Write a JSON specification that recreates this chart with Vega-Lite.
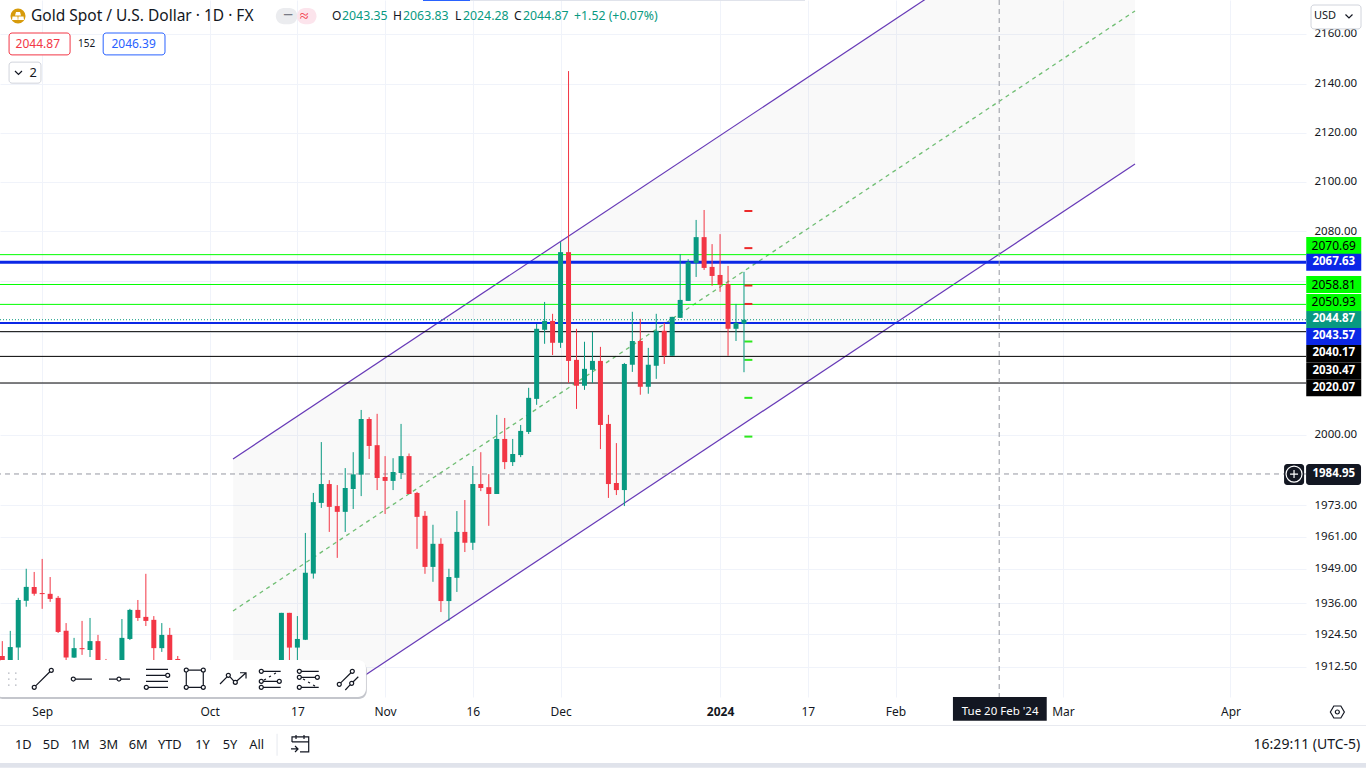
{"$schema":"https://vega.github.io/schema/vega-lite/v6.json","width":1306,"height":697,"autosize":"none","padding":{"left":0,"top":0,"right":60,"bottom":71},"background":"#ffffff","config":{"view":{"stroke":null},"font":"Noto Sans","text":{"font":"Noto Sans"},"axis":{"labelFont":"Noto Sans"}},
"datasets":{"candles":[
{"i":0,"o":1916.5,"h":1922.0,"l":1909.1,"c":1911.3},{"i":1,"o":1912.1,"h":1925.8,"l":1910.6,"c":1919.8},{"i":2,"o":1919.6,"h":1938.1,"l":1914.3,"c":1937.3},{"i":3,"o":1937.0,"h":1949.0,"l":1934.8,"c":1942.2},{"i":4,"o":1942.2,"h":1947.8,"l":1938.9,"c":1939.6},{"i":5,"o":1939.9,"h":1952.7,"l":1934.0,"c":1939.5},{"i":6,"o":1939.6,"h":1945.9,"l":1936.6,"c":1937.7},{"i":7,"o":1938.1,"h":1938.8,"l":1925.0,"c":1925.4},{"i":8,"o":1925.8,"h":1928.7,"l":1915.0,"c":1915.9},{"i":9,"o":1915.9,"h":1923.2,"l":1915.8,"c":1919.4},{"i":10,"o":1919.4,"h":1929.5,"l":1916.9,"c":1919.0},{"i":11,"o":1918.7,"h":1930.6,"l":1916.1,"c":1922.0},{"i":12,"o":1922.0,"h":1924.3,"l":1910.6,"c":1913.2},{"i":13,"o":1914.3,"h":1915.4,"l":1909.5,"c":1912.1},{"i":15,"o":1913.2,"h":1930.2,"l":1911.3,"c":1923.2},{"i":16,"o":1922.8,"h":1934.0,"l":1922.4,"c":1933.6},{"i":17,"o":1933.6,"h":1937.3,"l":1929.5,"c":1930.6},{"i":18,"o":1931.0,"h":1947.1,"l":1927.6,"c":1929.5},{"i":19,"o":1929.9,"h":1931.3,"l":1914.3,"c":1919.4},{"i":20,"o":1919.4,"h":1928.7,"l":1918.0,"c":1924.3},{"i":21,"o":1924.3,"h":1926.9,"l":1912.1,"c":1913.2},{"i":22,"o":1915.4,"h":1916.5,"l":1913.2,"c":1914.7},
{"i":35,"o":1910.6,"h":1932.5,"l":1907.7,"c":1932.5},{"i":36,"o":1932.5,"h":1932.5,"l":1915.0,"c":1919.6},{"i":37,"o":1919.6,"h":1931.3,"l":1915.0,"c":1922.8},{"i":38,"o":1922.5,"h":1962.5,"l":1922.4,"c":1947.5},{"i":39,"o":1947.2,"h":1977.7,"l":1945.3,"c":1974.2},{"i":40,"o":1973.9,"h":1997.2,"l":1972.0,"c":1981.1},{"i":41,"o":1981.1,"h":1982.6,"l":1962.9,"c":1972.4},{"i":42,"o":1972.7,"h":1980.7,"l":1953.1,"c":1970.5},{"i":43,"o":1970.5,"h":1987.2,"l":1962.9,"c":1979.6},{"i":44,"o":1979.2,"h":1993.3,"l":1971.6,"c":1984.8},{"i":45,"o":1984.7,"h":2009.6,"l":1976.5,"c":2006.1},{"i":46,"o":2006.1,"h":2006.8,"l":1990.7,"c":1995.7},{"i":47,"o":1996.0,"h":2008.1,"l":1978.8,"c":1983.4},{"i":48,"o":1983.8,"h":1991.8,"l":1969.7,"c":1982.3},{"i":49,"o":1982.3,"h":1991.0,"l":1978.8,"c":1985.7},{"i":50,"o":1985.3,"h":2004.2,"l":1983.0,"c":1991.8},{"i":51,"o":1991.8,"h":1992.8,"l":1977.3,"c":1977.3},{"i":52,"o":1977.7,"h":1978.1,"l":1956.5,"c":1968.6},{"i":53,"o":1969.0,"h":1970.8,"l":1947.1,"c":1949.7},{"i":54,"o":1949.7,"h":1965.6,"l":1944.1,"c":1958.4},{"i":55,"o":1958.4,"h":1960.5,"l":1932.8,"c":1936.9},{"i":56,"o":1936.9,"h":1949.0,"l":1929.5,"c":1945.9},{"i":57,"o":1945.6,"h":1970.8,"l":1940.3,"c":1962.9},{"i":58,"o":1962.9,"h":1975.0,"l":1955.3,"c":1958.8},{"i":59,"o":1958.8,"h":1988.0,"l":1956.1,"c":1981.1},{"i":60,"o":1981.1,"h":1993.3,"l":1978.4,"c":1979.6},{"i":61,"o":1979.9,"h":1984.9,"l":1965.2,"c":1977.3},{"i":62,"o":1977.3,"h":2007.7,"l":1977.3,"c":1998.4},{"i":63,"o":1998.4,"h":2006.5,"l":1986.8,"c":1989.5},{"i":64,"o":1989.5,"h":1998.4,"l":1988.0,"c":1992.6},{"i":65,"o":1992.2,"h":2003.8,"l":1991.4,"c":2001.5},{"i":66,"o":2001.1,"h":2018.2,"l":2000.3,"c":2014.3},{"i":67,"o":2013.9,"h":2043.2,"l":2011.6,"c":2041.3},{"i":68,"o":2040.9,"h":2051.9,"l":2035.4,"c":2044.4},{"i":69,"o":2044.4,"h":2047.2,"l":2031.0,"c":2035.8},{"i":70,"o":2035.8,"h":2075.7,"l":2033.8,"c":2071.7},{"i":71,"o":2071.7,"h":2145.3,"l":2020.1,"c":2028.7},{"i":72,"o":2029.1,"h":2041.3,"l":2010.0,"c":2019.0},{"i":73,"o":2019.0,"h":2036.2,"l":2017.4,"c":2025.6},{"i":74,"o":2025.2,"h":2040.1,"l":2020.1,"c":2028.7},{"i":75,"o":2028.7,"h":2034.2,"l":1994.5,"c":2003.8},{"i":76,"o":2004.2,"h":2007.7,"l":1975.8,"c":1981.1},{"i":77,"o":1981.5,"h":1996.8,"l":1976.9,"c":1978.8},{"i":78,"o":1978.8,"h":2027.9,"l":1972.7,"c":2027.5},{"i":79,"o":2027.2,"h":2048.0,"l":2024.4,"c":2036.5},{"i":80,"o":2036.5,"h":2045.2,"l":2015.5,"c":2018.6},{"i":81,"o":2018.6,"h":2033.8,"l":2015.9,"c":2027.2},{"i":82,"o":2026.8,"h":2047.2,"l":2021.7,"c":2040.5},{"i":83,"o":2040.5,"h":2043.6,"l":2027.5,"c":2030.7},{"i":84,"o":2030.7,"h":2046.0,"l":2030.7,"c":2046.0},{"i":85,"o":2045.6,"h":2070.9,"l":2045.6,"c":2052.7},{"i":86,"o":2052.3,"h":2068.9,"l":2052.3,"c":2067.7},{"i":87,"o":2067.4,"h":2084.6,"l":2061.8,"c":2077.7},{"i":88,"o":2077.7,"h":2088.6,"l":2064.6,"c":2065.4},{"i":89,"o":2065.8,"h":2074.9,"l":2058.3,"c":2062.2},{"i":90,"o":2062.6,"h":2078.9,"l":2055.9,"c":2058.7},{"i":91,"o":2059.0,"h":2066.2,"l":2030.7,"c":2041.3},{"i":92,"o":2041.3,"h":2051.1,"l":2036.5,"c":2043.6},{"i":93,"o":2043.35,"h":2063.83,"l":2024.28,"c":2044.87}],
"channel":[{"i":28.93,"up":1990.7,"mid":1933.2,"lo":1877.4},{"i":142.03,"up":2234.4,"mid":2170.3,"lo":2107.2}],
"levels":[{"p":2070.69,"kind":"green"},{"p":2058.81,"kind":"green"},{"p":2050.93,"kind":"green"},{"p":2067.63,"kind":"bluethick"},{"p":2043.57,"kind":"blue"},{"p":2040.17,"kind":"black"},{"p":2030.47,"kind":"black"},{"p":2020.07,"kind":"black"}],
"pivots":[{"p":2088.2,"kind":"r"},{"p":2073.3,"kind":"r"},{"p":2058.4,"kind":"r"},{"p":2051.1,"kind":"r"},{"p":2036.3,"kind":"s"},{"p":2029.1,"kind":"s"},{"p":2014.3,"kind":"s"},{"p":1999.3,"kind":"s"}],
"badges":[{"at":2074.3,"label":"2070.69","kind":"green"},{"at":2067.7,"label":"2067.63","kind":"blue"},{"at":2058.8,"label":"2058.81","kind":"green"},{"at":2051.7,"label":"2050.93","kind":"green"},{"at":2045.0,"label":"2044.87","kind":"teal"},{"at":2038.3,"label":"2043.57","kind":"blue"},{"at":2031.6,"label":"2040.17","kind":"black"},{"at":2024.9,"label":"2030.47","kind":"black"},{"at":2018.2,"label":"2020.07","kind":"black"},{"at":1984.9,"label":"1984.95","kind":"cross"}],
"flat":[{"x":-0.29,"x2":171,"y":1877.4,"y2":1875.6,"kind":"strip"},{"x":-0.29,"x2":171,"y":1891.2,"y2":1890.9,"kind":"line"},{"x":34.4,"x2":34.5,"y":1888.0,"y2":1880.0,"kind":"line"},{"x":52.75,"x2":58.65,"y":2174.9,"y2":2174.5,"kind":"tab"},{"x":58.65,"x2":100.65,"y":2174.9,"y2":2174.5,"kind":"line"},{"x":119.2,"x2":130.96,"y":1901.4,"y2":1892.7,"kind":"tip"}],
"rounded":[{"x":-1,"x2":45.7,"y":1914.3,"y2":1900.7,"kind":"shadow"},{"x":-1,"x2":45.6,"y":1915.0,"y2":1901.4,"kind":"panel"},{"x":34.3,"x2":37,"y":2171.5,"y2":2164.8,"kind":"pillgrey"},{"x":36.95,"x2":39.4,"y":2171.5,"y2":2164.8,"kind":"pillpink"}],
"crossbox":[{"x":160.72,"x2":163.23,"y":1988.8,"y2":1980.7},{"x":163.48,"x2":170.37,"y":1988.8,"y2":1980.7}],
"boxes":[{"x":0.85,"x2":8.5,"y":2161.1,"y2":2152.0,"kind":"red"},{"x":12.65,"x2":20.4,"y":2161.1,"y2":2152.0,"kind":"blue"},{"x":0.85,"x2":4.85,"y":2149.0,"y2":2140.3,"kind":"grey"},{"x":164.1,"x2":170.37,"y":2172.8,"y2":2162.8,"kind":"grey"}],
"icons":[{"i":1.22,"p":1908.0,"icon":"grip"},{"i":5.1,"p":1908.0,"icon":"line"},{"i":9.87,"p":1908.0,"icon":"ray"},{"i":14.63,"p":1908.0,"icon":"ext"},{"i":19.4,"p":1908.0,"icon":"par"},{"i":24.16,"p":1908.0,"icon":"rect"},{"i":28.93,"p":1908.0,"icon":"path"},{"i":33.69,"p":1908.0,"icon":"fib1"},{"i":38.46,"p":1908.0,"icon":"fib2"},{"i":43.22,"p":1908.0,"icon":"trend"},{"i":37.33,"p":1883.9,"icon":"cal"},{"i":167.4,"p":1895.9,"icon":"gear"},{"i":2.03,"p":2144.7,"icon":"chev"},{"i":168.86,"p":2168.2,"icon":"chev"},{"i":161.97,"p":1984.9,"icon":"plus"}],
"texts":[{"i":3.6,"p":2168.2,"label":"Gold Spot / U.S. Dollar · 1D · FX","kind":"title"},{"i":41.34,"p":2168.2,"label":"O","kind":"ohlc"},{"i":42.6,"p":2168.2,"label":"2043.35","kind":"teal"},{"i":49.0,"p":2168.2,"label":"H","kind":"ohlc"},{"i":50.25,"p":2168.2,"label":"2063.83","kind":"teal"},{"i":56.77,"p":2168.2,"label":"L","kind":"ohlc"},{"i":57.77,"p":2168.2,"label":"2024.28","kind":"teal"},{"i":64.16,"p":2168.2,"label":"C","kind":"ohlc"},{"i":65.29,"p":2168.2,"label":"2044.87","kind":"teal"},{"i":71.69,"p":2168.2,"label":"+1.52 (+0.07%)","kind":"teal"},{"i":35.2,"p":2168.2,"label":"−","kind":"greyb"},{"i":37.3,"p":2168.2,"label":"≈","kind":"pink"},{"i":1.67,"p":2156.5,"label":"2044.87","kind":"red"},{"i":9.49,"p":2156.5,"label":"152","kind":"small"},{"i":13.68,"p":2156.5,"label":"2046.39","kind":"blue"},{"i":3.41,"p":2144.7,"label":"2","kind":"dark"},{"i":164.47,"p":2168.2,"label":"USD","kind":"usd"},{"i":120.3,"p":1896.0,"label":"Tue 20 Feb '24","kind":"white"},{"i":1.59,"p":1883.9,"label":"1D","kind":"dark"},{"i":5.07,"p":1883.9,"label":"5D","kind":"dark"},{"i":8.58,"p":1883.9,"label":"1M","kind":"dark"},{"i":12.16,"p":1883.9,"label":"3M","kind":"dark"},{"i":15.85,"p":1883.9,"label":"6M","kind":"dark"},{"i":19.52,"p":1883.9,"label":"YTD","kind":"dark"},{"i":24.2,"p":1883.9,"label":"1Y","kind":"dark"},{"i":27.64,"p":1883.9,"label":"5Y","kind":"dark"},{"i":30.97,"p":1883.9,"label":"All","kind":"dark"},{"i":156.9,"p":1883.9,"label":"16:29:11 (UTC-5)","kind":"time"}]},
"resolve":{"scale":{"color":"independent","size":"independent","shape":"independent"}},
"layer":[
{"data":{"name":"channel"},"mark":{"type":"area","clip":true,"color":"#000000","opacity":0.025},"encoding":{"x":{"field":"i","type":"quantitative","scale":{"domain":[-0.288,163.47],"nice":false,"zero":false},"axis":{"title":null,"orient":"bottom","domain":false,"ticks":false,"grid":true,"gridColor":"#f0f3fa","values":[5,26,37,48,59,70,90,101,112,133,154],"labelExpr":"{'5':'Sep','26':'Oct','37':'17','48':'Nov','59':'16','70':'Dec','90':'2024','101':'17','112':'Feb','133':'Mar','154':'Apr'}[datum.value]","labelColor":"#131722","labelFontSize":12,"labelPadding":9,"labelOverlap":false,"labelFlush":false,"labelBound":false,"labelFontWeight":{"condition":{"test":"datum.value==90","value":"bold"},"value":"normal"}}},"y":{"field":"up","type":"quantitative","scale":{"type":"log","domain":[1901.4,2174.9],"nice":false,"zero":false},"axis":{"title":null,"orient":"right","domain":false,"ticks":false,"grid":true,"gridColor":"#f0f3fa","values":[1912.5,1924.5,1936,1949,1961,1973,2000,2020,2040,2060,2080,2100,2120,2140,2160.7],"labelExpr":"datum.value>2160?'2160.00':(datum.value==2020||datum.value==2040||datum.value==2060)?'':format(datum.value,'.2f')","labelColor":"#131722","labelFontSize":11.5,"labelPadding":8,"labelOverlap":false,"labelFlush":false,"labelBound":false}},"y2":{"field":"lo"}}},
{"data":{"name":"channel"},"mark":{"type":"line","clip":true,"color":"#4caf50","strokeWidth":1.3,"strokeDash":[4,4],"opacity":0.8},"encoding":{"x":{"field":"i","type":"quantitative"},"y":{"field":"mid","type":"quantitative"}}},
{"data":{"name":"channel"},"mark":{"type":"line","clip":true,"color":"#673ab7","strokeWidth":1.2},"encoding":{"x":{"field":"i","type":"quantitative"},"y":{"field":"up","type":"quantitative"}}},
{"data":{"name":"channel"},"mark":{"type":"line","clip":true,"color":"#673ab7","strokeWidth":1.2},"encoding":{"x":{"field":"i","type":"quantitative"},"y":{"field":"lo","type":"quantitative"}}},
{"data":{"name":"levels"},"mark":{"type":"rule"},"encoding":{"y":{"field":"p","type":"quantitative"},"color":{"field":"kind","type":"nominal","legend":null,"scale":{"domain":["green","bluethick","blue","black"],"range":["#00ff00","#0b27e6","#0b27e6","#000000"]}},"size":{"field":"kind","type":"ordinal","legend":null,"scale":{"type":"ordinal","domain":["green","bluethick","blue","black"],"range":[1,3,2,1]}}}},
{"data":{"values":[{"p":2044.87}]},"mark":{"type":"rule","color":"#089981","strokeWidth":1,"strokeDash":[1,2]},"encoding":{"y":{"field":"p","type":"quantitative"}}},
{"data":{"values":[{"p":1984.95}]},"mark":{"type":"rule","color":"#9598a1","strokeWidth":1,"strokeDash":[5,4]},"encoding":{"y":{"field":"p","type":"quantitative"}}},
{"data":{"values":[{"i":125}]},"mark":{"type":"rule","color":"#9598a1","strokeWidth":1,"strokeDash":[5,4]},"encoding":{"x":{"field":"i","type":"quantitative"}}},
{"data":{"name":"pivots"},"mark":{"type":"rule","strokeWidth":2},"encoding":{"x":{"datum":93.05,"type":"quantitative"},"x2":{"datum":94.05},"y":{"field":"p","type":"quantitative"},"color":{"field":"kind","type":"nominal","legend":null,"scale":{"domain":["r","s"],"range":["#ec2a2a","#2ee81e"]}}}},
{"data":{"name":"candles"},"mark":{"type":"rule","strokeWidth":1},"encoding":{"x":{"field":"i","type":"quantitative"},"y":{"field":"h","type":"quantitative"},"y2":{"field":"l"},"color":{"condition":{"test":"datum.c>=datum.o","value":"#089981"},"value":"#f23645"}}},
{"data":{"name":"candles"},"mark":{"type":"rect","width":5},"encoding":{"x":{"field":"i","type":"quantitative"},"y":{"field":"o","type":"quantitative"},"y2":{"field":"c"},"color":{"condition":{"test":"datum.c>=datum.o","value":"#089981"},"value":"#f23645"}}},
{"data":{"name":"flat"},"mark":{"type":"rect"},"encoding":{"x":{"field":"x","type":"quantitative"},"x2":{"field":"x2"},"y":{"field":"y","type":"quantitative"},"y2":{"field":"y2"},"color":{"field":"kind","type":"nominal","legend":null,"scale":{"domain":["strip","line","tab","tip"],"range":["#e0e3eb","#e0e3eb","#2962ff","#131722"]}}}},
{"data":{"name":"crossbox"},"mark":{"type":"rect","cornerRadius":3,"color":"#131722"},"encoding":{"x":{"field":"x","type":"quantitative"},"x2":{"field":"x2"},"y":{"field":"y","type":"quantitative"},"y2":{"field":"y2"}}},
{"data":{"name":"rounded"},"mark":{"type":"rect","cornerRadius":8},"encoding":{"x":{"field":"x","type":"quantitative"},"x2":{"field":"x2"},"y":{"field":"y","type":"quantitative"},"y2":{"field":"y2"},"color":{"field":"kind","type":"nominal","legend":null,"scale":{"domain":["shadow","panel","pillgrey","pillpink"],"range":["#c4c6cc","#ffffff","#ebecef","#fce4ec"]}}}},
{"data":{"name":"boxes"},"mark":{"type":"rect","cornerRadius":3,"fill":"#ffffff","fillOpacity":1,"strokeWidth":1},"encoding":{"x":{"field":"x","type":"quantitative"},"x2":{"field":"x2"},"y":{"field":"y","type":"quantitative"},"y2":{"field":"y2"},"stroke":{"field":"kind","type":"nominal","legend":null,"scale":{"domain":["red","blue","grey"],"range":["#f23645","#2962ff","#d1d4dc"]}}}},
{"data":{"name":"badges"},"transform":[{"filter":"datum.kind!='cross'"}],"mark":{"type":"rect","width":55,"height":17},"encoding":{"x":{"datum":166.95,"type":"quantitative"},"y":{"field":"at","type":"quantitative"},"color":{"field":"kind","type":"nominal","legend":null,"scale":{"domain":["green","blue","teal","black"],"range":["#00ff00","#0b27e6","#089981","#000000"]}}}},
{"data":{"name":"badges"},"transform":[{"filter":"datum.kind=='green'"}],"mark":{"type":"text","align":"center","baseline":"middle","fontSize":12,"font":"Noto Sans","color":"#000000"},"encoding":{"x":{"datum":166.95,"type":"quantitative"},"y":{"field":"at","type":"quantitative"},"text":{"field":"label"}}},
{"data":{"name":"badges"},"transform":[{"filter":"datum.kind!='green'"}],"mark":{"type":"text","align":"center","baseline":"middle","fontSize":11.5,"fontWeight":"bold","font":"Noto Sans","color":"#ffffff"},"encoding":{"x":{"datum":166.95,"type":"quantitative"},"y":{"field":"at","type":"quantitative"},"text":{"field":"label"}}},
{"data":{"values":[{"i":1.97,"p":2168.2}]},"mark":{"type":"point","filled":true,"size":227,"color":"#d79b0b","opacity":1},"encoding":{"x":{"field":"i","type":"quantitative"},"y":{"field":"p","type":"quantitative"}}},
{"data":{"values":[{"i":1.97,"p":2168.2}]},"mark":{"type":"point","filled":true,"size":4,"color":"#ffffff","opacity":1,"shape":"M-2,-4H2L3,-0.5H-3ZM-5.5,0.5H-0.5L-0.2,4H-6ZM0.5,0.5H5.5L6,4H0.2Z"},"encoding":{"x":{"field":"i","type":"quantitative"},"y":{"field":"p","type":"quantitative"}}},
{"data":{"name":"icons"},"mark":{"type":"point","filled":false,"size":4,"strokeWidth":1.2,"opacity":1},"encoding":{"x":{"field":"i","type":"quantitative"},"y":{"field":"p","type":"quantitative"},"color":{"condition":[{"test":"datum.icon=='grip'","value":"#b2b5be"},{"test":"datum.icon=='plus'","value":"#ffffff"}],"value":"#131722"},"shape":{"field":"icon","type":"nominal","legend":null,"scale":{"domain":["grip","line","ray","ext","par","rect","path","fib1","fib2","trend","cal","gear","chev","plus"],"range":["M-4,-6h1.5M3,-6h1.5M-4,0h1.5M3,0h1.5M-4,6h1.5M3,6h1.5","M-7.3,6.9L6.9,-7.3M-10.7,8.3a2,2 0 1,0 4,0a2,2 0 1,0 -4,0M6.3,-8.7a2,2 0 1,0 4,0a2,2 0 1,0 -4,0","M-5.7,0H11M-9.7,0a2,2 0 1,0 4,0a2,2 0 1,0 -4,0","M-10,0H-2M2,0H11M-2,0a2,2 0 1,0 4,0a2,2 0 1,0 -4,0","M-11,-9.7H11M-11,-3.7H8.7M8.7,-3.7a2,2 0 1,0 4,0a2,2 0 1,0 -4,0M-11,2.3H11M-8.7,8.3H11M-12.7,8.3a2,2 0 1,0 4,0a2,2 0 1,0 -4,0","M-6.7,-9H6.3M-6.7,8.3H6.3M-8.7,-7V6.3M8.3,-7V6.3M-10.7,-9a2,2 0 1,0 4,0a2,2 0 1,0 -4,0M6.3,-9a2,2 0 1,0 4,0a2,2 0 1,0 -4,0M-10.7,8.3a2,2 0 1,0 4,0a2,2 0 1,0 -4,0M6.3,8.3a2,2 0 1,0 4,0a2,2 0 1,0 -4,0","M-13,5L-6,-2.2M-3.2,-2.5L0.8,2M3.8,2L13,-6.3M7,-6.3H13V-0.5M-6.7,-3.7a2,2 0 1,0 4,0a2,2 0 1,0 -4,0M0.3,3.3a2,2 0 1,0 4,0a2,2 0 1,0 -4,0","M-7.7,-7.7H9.7M-7.7,2.3H6.3M-7.7,8.3H9.7M-11.7,-7.7a2,2 0 1,0 4,0a2,2 0 1,0 -4,0M-11.7,2.3a2,2 0 1,0 4,0a2,2 0 1,0 -4,0M6.3,2.3a2,2 0 1,0 4,0a2,2 0 1,0 -4,0M-11.7,8.3a2,2 0 1,0 4,0a2,2 0 1,0 -4,0M-7,1L-5,0M-2,-2L0,-3M3,-5L5,-6","M-7.7,-7.7H9.7M-7.7,-1.7H6.3M-7.7,8.3H9.7M-11.7,-7.7a2,2 0 1,0 4,0a2,2 0 1,0 -4,0M-11.7,-1.7a2,2 0 1,0 4,0a2,2 0 1,0 -4,0M6.3,-1.7a2,2 0 1,0 4,0a2,2 0 1,0 -4,0M-11.7,8.3a2,2 0 1,0 4,0a2,2 0 1,0 -4,0M-6,0L-4,1M-1,3L1,4M4,6L6,7","M-6.3,3.9L4,-6.3M-9.7,5.3a2,2 0 1,0 4,0a2,2 0 1,0 -4,0M3.3,-7.7a2,2 0 1,0 4,0a2,2 0 1,0 -4,0M-1.7,11L3.3,5.6M6,3L11.3,-2.3M2.7,4.3a2,2 0 1,0 4,0a2,2 0 1,0 -4,0","M-8,-3V-8H8.7V7H0M-8,-3H8.7M-4,-10V-6M4,-10V-6M-9,4H-2M-5,1L-2,4L-5,7","M-7,0L-3.5,-6H3.5L7,0L3.5,6H-3.5ZM-2,0a2,2 0 1,0 4,0a2,2 0 1,0 -4,0","M-3.5,-1.5L0,2L3.5,-1.5","M-8,0a8,8 0 1,0 16,0a8,8 0 1,0 -16,0M-4,0H4M0,-4V4"]}}}},
{"data":{"name":"texts"},"mark":{"type":"text","align":"left","baseline":"middle","font":"Noto Sans"},"encoding":{"x":{"field":"i","type":"quantitative"},"y":{"field":"p","type":"quantitative"},"text":{"field":"label"},"color":{"field":"kind","type":"nominal","legend":null,"scale":{"domain":["title","ohlc","dark","usd","time","teal","greyb","pink","red","small","blue","white"],"range":["#131722","#131722","#131722","#131722","#131722","#089981","#787b86","#f23645","#f23645","#131722","#2962ff","#ffffff"]}},"size":{"field":"kind","type":"ordinal","legend":null,"scale":{"type":"ordinal","domain":["title","ohlc","dark","usd","time","teal","greyb","pink","red","small","blue","white"],"range":[15.5,12,12.8,11,14,12.3,18,16,12,10,12,11.5]}}}}
]}
